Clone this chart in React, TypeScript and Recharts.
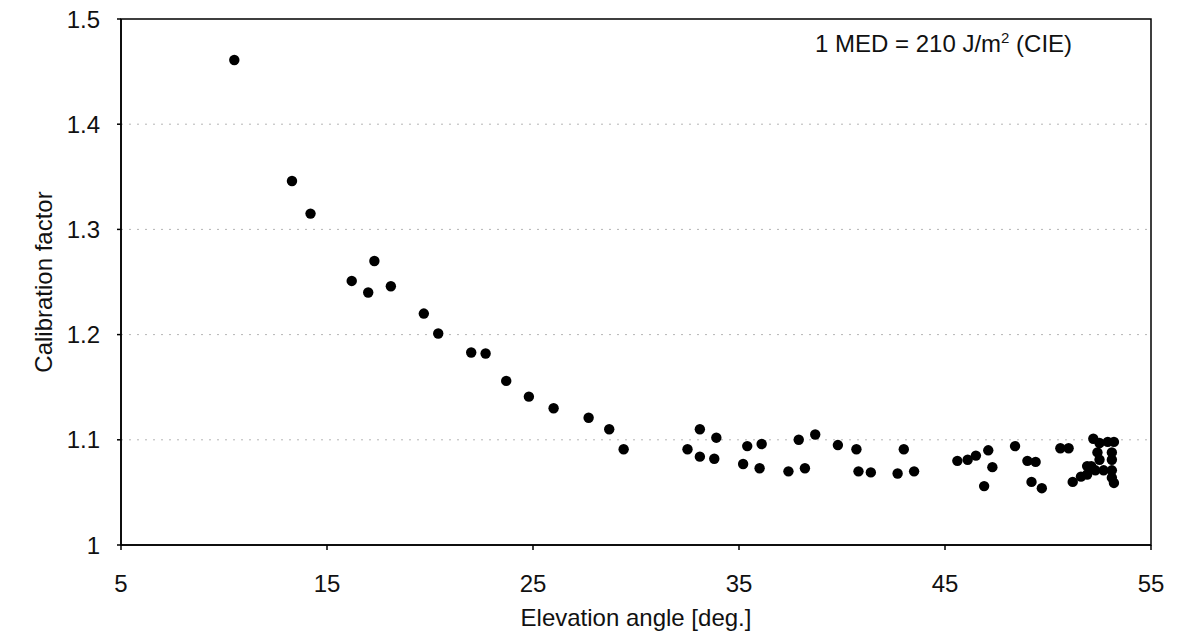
import React from "react";
import {
    ScatterChart,
    Scatter,
    XAxis,
    YAxis,
    CartesianGrid,
    ReferenceArea,
} from "recharts";

// Elevation angle [deg.] and calibration factor
const elevation = [
    10.5, 13.3, 14.2, 16.2, 17.0, 17.3, 18.1, 19.7, 20.4, 22.0, 22.7, 23.7, 24.8, 26.0, 27.7, 28.7, 29.4,
    32.5, 33.1, 33.1, 33.9, 33.8, 35.4, 35.2, 36.1, 36.0, 37.4, 37.9, 38.2, 38.7, 39.8, 40.7, 40.8, 41.4,
    42.7, 43.0, 43.5, 45.6, 46.1, 46.5, 47.1, 46.9, 47.3, 48.4, 49.0, 49.4, 49.2, 49.7, 50.6, 51.0, 51.2,
    51.6, 51.9, 51.9, 52.2, 52.5, 52.9, 53.2, 52.4, 53.1, 52.5, 53.1, 52.3, 52.7, 53.1, 53.1, 53.2, 52.1,
];
const factor = [
    1.461, 1.346, 1.315, 1.251, 1.24, 1.27, 1.246, 1.22, 1.201, 1.183, 1.182, 1.156, 1.141, 1.13, 1.121, 1.11, 1.091,
    1.091, 1.11, 1.084, 1.102, 1.082, 1.094, 1.077, 1.096, 1.073, 1.07, 1.1, 1.073, 1.105, 1.095, 1.091, 1.07, 1.069,
    1.068, 1.091, 1.07, 1.08, 1.081, 1.085, 1.09, 1.056, 1.074, 1.094, 1.08, 1.079, 1.06, 1.054, 1.092, 1.092, 1.06,
    1.065, 1.075, 1.067, 1.101, 1.097, 1.098, 1.098, 1.088, 1.088, 1.081, 1.081, 1.071, 1.071, 1.071, 1.064, 1.059, 1.075,
];
const xTicks = [5, 15, 25, 35, 45, 55];
const yTicks = [1, 1.1, 1.2, 1.3, 1.4, 1.5];

const points = elevation.map((e, i) => ({ elevation: e, factor: factor[i] }));

const font = "'Liberation Sans', Arial, sans-serif";
const tickStyle = { fontFamily: font, fontSize: 24, fill: "#111" };

const YLabel = ({ viewBox }: any) => {
    const x = viewBox.x + 43;
    const y = viewBox.y + viewBox.height / 2;
    return (
        <text x={x} y={y} transform={`rotate(-90, ${x}, ${y})`} textAnchor="middle" dominantBaseline="central"
            style={{ fontFamily: font, fontSize: 24, fill: "#111" }}>
            Calibration factor
        </text>
    );
};

const Dot = (p: any) => <circle cx={p.cx} cy={p.cy} r={5.2} fill="#000" />;

export default function App() {
    return (
        <div style={{ position: "absolute", left: 0, top: 0, width: 1186, height: 633, background: "#fff" }}>
            <ScatterChart width={1186} height={633} margin={{ top: 19, right: 35, left: 0, bottom: 28 }}>
                <CartesianGrid vertical={false} stroke="#b5b5b5" strokeDasharray="2 6" horizontalValues={[1.1, 1.2, 1.3, 1.4]} />
                <XAxis
                    type="number"
                    dataKey="elevation"
                    domain={[5, 55]}
                    ticks={xTicks}
                    interval={0}
                    height={60}
                    tickSize={5}
                    tickMargin={25}
                    tick={tickStyle}
                    stroke="#000"
                    strokeWidth={1.5}
                    label={{ value: "Elevation angle [deg.]", position: "bottom", offset: 4, style: { fontFamily: font, fontSize: 24, fill: "#111" } }}
                />
                <YAxis
                    type="number"
                    dataKey="factor"
                    domain={[1, 1.5]}
                    ticks={yTicks}
                    interval={0}
                    width={121}
                    tickSize={4}
                    tickMargin={17}
                    tick={tickStyle}
                    tickFormatter={(v: number) => String(Math.round(v * 10) / 10)}
                    stroke="#000"
                    strokeWidth={1.5}
                    label={<YLabel />}
                />
                <ReferenceArea x1={5} x2={55} y1={1} y2={1.5} fill="none" stroke="#000" strokeWidth={1.5} />
                <Scatter data={points} shape={Dot} isAnimationActive={false} />
            </ScatterChart>
            <div style={{ position: "absolute", left: 815, top: 32, fontFamily: font, fontSize: 24, lineHeight: "24px", color: "#111", whiteSpace: "nowrap" }}>
                1 MED = 210 J/m<sup style={{ fontSize: 15, verticalAlign: "top", lineHeight: "12px" }}>2</sup> (CIE)
            </div>
        </div>
    );
}
